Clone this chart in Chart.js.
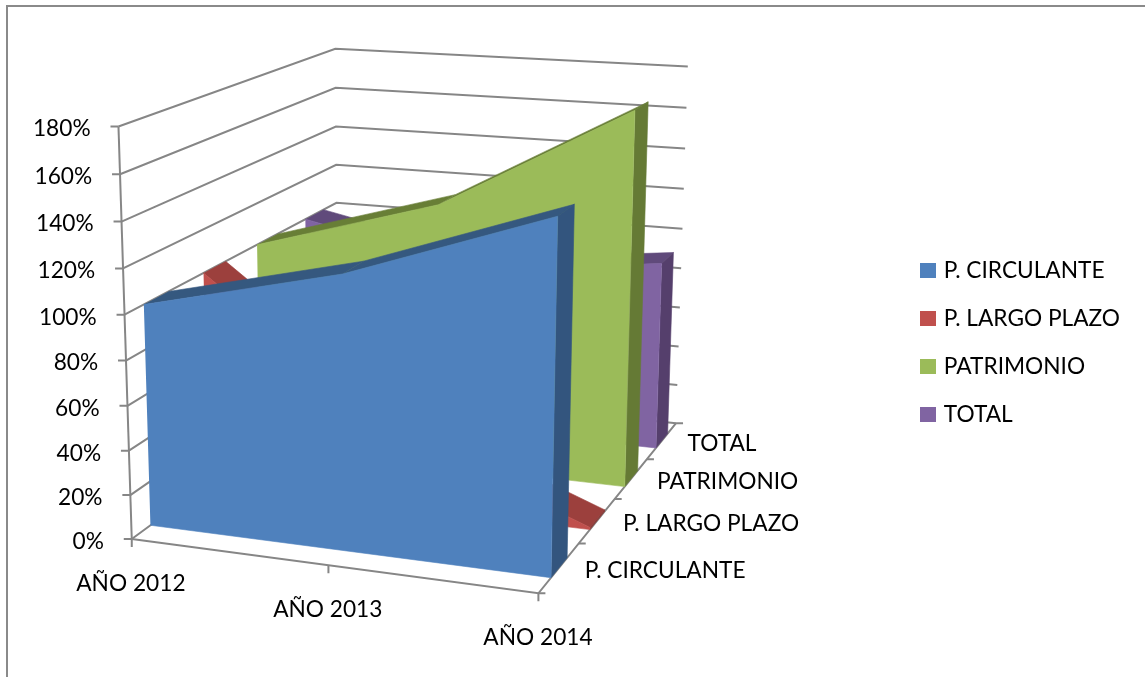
<!DOCTYPE html>
<html>
<head>
<meta charset="utf-8">
<title>Estructura financiera</title>
<script src="https://cdn.jsdelivr.net/npm/chart.js@4"></script>
<style>
    html, body { margin: 0; padding: 0; background: #fff; }
    canvas { display: block; }
</style>
</head>
<body>
<canvas id="grafico" width="1145" height="677"></canvas>
<script>
// Datos
const anios = ['AÑO 2012', 'AÑO 2013', 'AÑO 2014'];
const nombresSeries = ['P. CIRCULANTE', 'P. LARGO PLAZO', 'PATRIMONIO', 'TOTAL'];
const pCirculante = [100, 121, 152];
const pLargoPlazo = [100, 35, 1];
const patrimonio = [100, 126, 175];
const total = [100, 82, 92];
const ticksPorcentaje = [0, 20, 40, 60, 80, 100, 120, 140, 160, 180];

const MAX_PCT = 180;
const TAM_FUENTE = 22.7;
const FUENTE = TAM_FUENTE + 'px Lato';
const COLOR_EJE = '#868686';

// Colores de cada serie: frente, techo, lateral
const coloresSeries = [
    ['#4f81bd', '#35587f', '#33557e'],
    ['#c0504d', '#9c403d', '#8c3a38'],
    ['#9bbb59', '#687e36', '#657a35'],
    ['#8064a2', '#604a7b', '#553f6c']
];

// Puntos de referencia de la caja 3D: [anio, profundidad, altura, xPantalla, yPantalla]
const refCaja = [
    [0, 0, 1, 117, 127], [0, 0, 8 / 9, 119, 174], [0, 0, 7 / 9, 121, 221], [0, 0, 6 / 9, 123, 268],
    [0, 0, 5 / 9, 124, 315], [0, 0, 4 / 9, 125, 361], [0, 0, 3 / 9, 127, 407], [0, 0, 2 / 9, 128, 451],
    [0, 0, 1 / 9, 129, 496], [0, 0, 0, 132, 540],
    [0, 1, 1, 335, 49], [0, 1, 8 / 9, 335, 88], [0, 1, 7 / 9, 335, 127], [0, 1, 6 / 9, 335, 165], [0, 1, 5 / 9, 335, 203],
    [1, 1, 1, 688, 67], [1, 1, 8 / 9, 686, 108], [1, 1, 7 / 9, 685, 149], [1, 1, 6 / 9, 684, 189], [1, 1, 5 / 9, 682, 229],
    [1, 1, 4 / 9, 681, 269], [1, 1, 3 / 9, 680, 308], [1, 1, 2 / 9, 678, 347], [1, 1, 1 / 9, 677, 385], [1, 1, 0, 675, 423],
    [1, 0, 0, 537, 594], [1, 0, 0, 537, 594], [1, 0, 0, 537, 594], [1, 0, 0, 537, 594],
    [0.5, 0, 0, 328, 567], [0.5, 0, 0, 328, 567],
    [1, 0.25, 0, 580, 545], [1, 0.5, 0, 615, 499], [1, 0.75, 0, 648, 460]
];

// Ajusta la matriz de proyeccion por minimos cuadrados
function calcularCamara(puntos) {
    const filas = [];
    puntos.forEach(([u, d, h, px, py]) => {
        filas.push([u, d, h, 1, 0, 0, 0, 0, -u * px, -d * px, -h * px, px]);
        filas.push([0, 0, 0, 0, u, d, h, 1, -u * py, -d * py, -h * py, py]);
    });
    const n = 11;
    const m = [];
    for (let i = 0; i < n; i++) {
        m.push([]);
        for (let j = 0; j <= n; j++) {
            m[i].push(filas.reduce((s, f) => s + f[i] * f[j], 0));
        }
    }
    for (let i = 0; i < n; i++) {
        let piv = i;
        for (let k = i + 1; k < n; k++) {
            if (Math.abs(m[k][i]) > Math.abs(m[piv][i])) piv = k;
        }
        [m[i], m[piv]] = [m[piv], m[i]];
        for (let k = 0; k < n; k++) {
            if (k === i) continue;
            const f = m[k][i] / m[i][i];
            for (let j = i; j <= n; j++) m[k][j] -= f * m[i][j];
        }
    }
    return m.map((fila, i) => fila[n] / fila[i]);
}

const cam = calcularCamara(refCaja);

// anio y profundidad van de 0 a 1, pct en porcentaje
function proyectar(u, d, pct) {
    const h = pct / MAX_PCT;
    const w = cam[8] * u + cam[9] * d + cam[10] * h + 1;
    return {
        x: (cam[0] * u + cam[1] * d + cam[2] * h + cam[3]) / w,
        y: (cam[4] * u + cam[5] * d + cam[6] * h + cam[7]) / w
    };
}

function cara(puntos, color, etiqueta, marca) {
    return {
        label: etiqueta || '',
        data: puntos,
        showLine: true,
        fill: 'shape',
        backgroundColor: color,
        borderColor: color,
        borderWidth: 0.6,
        pointRadius: 0,
        pointStyle: marca,
        tension: 0
    };
}

function linea(puntos) {
    return {
        label: '',
        data: puntos,
        showLine: true,
        fill: false,
        borderColor: COLOR_EJE,
        borderWidth: 2,
        pointRadius: 0,
        tension: 0
    };
}

// Cuadro de la leyenda
function cuadroLeyenda(color) {
    const c = document.createElement('canvas');
    c.width = 16;
    c.height = 15;
    const g = c.getContext('2d');
    g.fillStyle = color;
    g.fillRect(0, 0, 16, 15);
    return c;
}

// Caras de un area 3D: frente, lateral derecho y techo por tramo
function carasSerie(valores, indice) {
    const [frente, techo, lateral] = coloresSeries[indice];
    const d0 = (indice + 0.5) / nombresSeries.length - 0.05;
    const d1 = d0 + 0.1;
    const ultimo = valores.length - 1;
    const u = i => i / ultimo;
    const caras = [];

    const contorno = valores.map((v, i) => proyectar(u(i), d0, v));
    contorno.push(proyectar(1, d0, 0), proyectar(0, d0, 0));
    caras.push(cara(contorno, frente, nombresSeries[indice], cuadroLeyenda(frente)));

    caras.push(cara([
        proyectar(1, d0, valores[ultimo]), proyectar(1, d1, valores[ultimo]),
        proyectar(1, d1, 0), proyectar(1, d0, 0)
    ], lateral));

    for (let i = 0; i < ultimo; i++) {
        caras.push(cara([
            proyectar(u(i), d0, valores[i]), proyectar(u(i + 1), d0, valores[i + 1]),
            proyectar(u(i + 1), d1, valores[i + 1]), proyectar(u(i), d1, valores[i])
        ], techo));
    }
    return caras;
}

// Paredes, ejes y marcas
function lineasCaja() {
    const lineas = [];
    ticksPorcentaje.forEach(t => {
        const a = proyectar(0, 0, t);
        lineas.push(linea([a, proyectar(0, 1, t), proyectar(1, 1, t)]));
        lineas.push(linea([{ x: a.x - 8, y: a.y }, a]));
    });
    lineas.push(linea([proyectar(0, 0, 0), proyectar(0, 0, MAX_PCT)]));
    lineas.push(linea([proyectar(0, 0, 0), proyectar(1, 0, 0), proyectar(1, 1, 0)]));
    anios.forEach((_, i) => {
        const a = proyectar(i / (anios.length - 1), 0, 0);
        lineas.push(linea([a, { x: a.x, y: a.y + 8 }]));
    });
    for (let i = 0; i <= nombresSeries.length; i++) {
        const a = proyectar(1, i / nombresSeries.length, 0);
        lineas.push(linea([a, { x: a.x + 7, y: a.y }]));
    }
    return lineas;
}

// Marco exterior del grafico
const pluginMarco = {
    id: 'marco',
    beforeDraw(chart) {
        const { ctx, width, height } = chart;
        ctx.save();
        ctx.fillStyle = '#fff';
        ctx.fillRect(0, 0, width, height);
        ctx.strokeStyle = '#8a8a8a';
        ctx.lineWidth = 2;
        ctx.beginPath();
        ctx.moveTo(7, height);
        ctx.lineTo(7, 6);
        ctx.lineTo(width, 6);
        ctx.stroke();
        ctx.restore();
    }
};

// Rotulos de los tres ejes
const pluginRotulos = {
    id: 'rotulos',
    afterDraw(chart) {
        const { ctx } = chart;
        ctx.save();
        ctx.font = FUENTE;
        ctx.fillStyle = '#000';
        ctx.textBaseline = 'middle';

        ctx.textAlign = 'right';
        ticksPorcentaje.forEach(t => {
            const p = proyectar(0, 0, t);
            ctx.fillText(t + '%', p.x - 27, p.y + 2);
        });

        ctx.textAlign = 'center';
        anios.forEach((nombre, i) => {
            const p = proyectar(i / (anios.length - 1), 0, 0);
            ctx.fillText(nombre, p.x, p.y + 44);
        });

        ctx.textAlign = 'left';
        nombresSeries.forEach((nombre, i) => {
            const p = proyectar(1, (i + 0.5) / nombresSeries.length, 0);
            ctx.fillText(nombre, p.x + 26, p.y + 2);
        });
        ctx.restore();
    }
};

const datasets = [
    ...carasSerie(pCirculante, 0),
    ...carasSerie(pLargoPlazo, 1),
    ...carasSerie(patrimonio, 2),
    ...carasSerie(total, 3),
    ...lineasCaja()
];

const grafico = new Chart(document.getElementById('grafico'), {
    type: 'scatter',
    data: { datasets },
    options: {
        responsive: false,
        animation: false,
        events: [],
        layout: { padding: { top: 8, right: 15 } },
        scales: {
            x: { type: 'linear', display: false, min: 0, max: 900 },
            y: { type: 'linear', display: false, reverse: true, min: 0, max: 677 }
        },
        plugins: {
            tooltip: { enabled: false },
            legend: {
                position: 'right',
                labels: {
                    filter: item => item.text !== '',
                    usePointStyle: true,
                    boxWidth: 8,
                    boxHeight: 15,
                    padding: 48 - TAM_FUENTE,
                    color: '#000',
                    font: { family: 'Lato', size: TAM_FUENTE }
                }
            }
        }
    },
    plugins: [pluginMarco, pluginRotulos]
});

// Las escalas trabajan en pixeles del lienzo
const area = grafico.chartArea;
grafico.options.scales.x.min = area.left;
grafico.options.scales.x.max = area.right;
grafico.options.scales.y.min = area.top;
grafico.options.scales.y.max = area.bottom;
grafico.update('none');
</script>
</body>
</html>
